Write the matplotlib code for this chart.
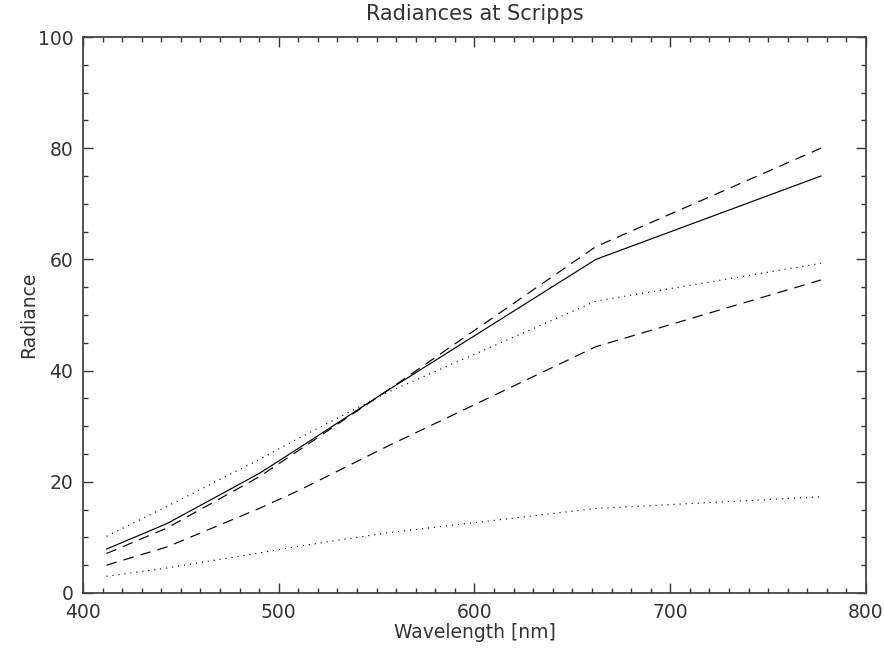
import matplotlib
matplotlib.use("Agg")
import matplotlib.pyplot as plt
from matplotlib.ticker import MultipleLocator

wavelength = [412, 443, 490, 510, 555, 662, 777]
solid = [7.9, 12.5, 21.5, 26.0, 36.3, 60.0, 75.0]
dash_upper = [7.1, 11.7, 20.9, 25.6, 36.3, 62.3, 80.0]
dot_upper = [10.2, 15.6, 24.0, 27.8, 36.0, 52.5, 59.3]
dash_lower = [5.0, 8.3, 15.2, 18.4, 26.3, 44.3, 56.3]
dot_lower = [3.0, 4.5, 7.2, 8.4, 10.8, 15.2, 17.3]

x_ticks = [400, 500, 600, 700, 800]
y_ticks = [0, 20, 40, 60, 80, 100]

plt.rcParams['font.family'] = ['DejaVu Sans']

fig = plt.figure(figsize=(8.84, 6.53), dpi=100)
ax = fig.add_axes([0.0939, 0.0919, 0.8857, 0.8514])

lw = 0.85
ax.plot(wavelength, solid, color='black', lw=lw)
ax.plot(wavelength, dash_upper, color='black', lw=lw, linestyle=(0, (9, 6)))
ax.plot(wavelength, dot_upper, color='black', lw=lw, linestyle=(0, (0.9, 4.2)))
ax.plot(wavelength, dash_lower, color='black', lw=lw, linestyle=(0, (9, 6)))
ax.plot(wavelength, dot_lower, color='black', lw=lw, linestyle=(0, (0.9, 4.2)))

ax.set_xlim(400, 800)
ax.set_ylim(0, 100)
ax.set_xticks(x_ticks)
ax.set_yticks(y_ticks)
ax.xaxis.set_minor_locator(MultipleLocator(10))
ax.yaxis.set_minor_locator(MultipleLocator(5))
ax.tick_params(which='both', direction='in', top=True, right=True,
               color='#333333', width=1.0)
ax.tick_params(which='major', length=7.5, labelsize=13.5, pad=7, labelcolor='#333333')
ax.tick_params(which='minor', length=3.8)
for s in ax.spines.values():
    s.set_linewidth(1.3)
    s.set_color('#444444')

ax.set_title('Radiances at Scripps', fontsize=15, color='#333333', pad=12)
ax.set_xlabel('Wavelength [nm]', fontsize=13.5, color='#333333', labelpad=1)
ax.set_ylabel('Radiance', fontsize=13.5, color='#333333', labelpad=0)

fig.savefig('out.png', dpi=100)
